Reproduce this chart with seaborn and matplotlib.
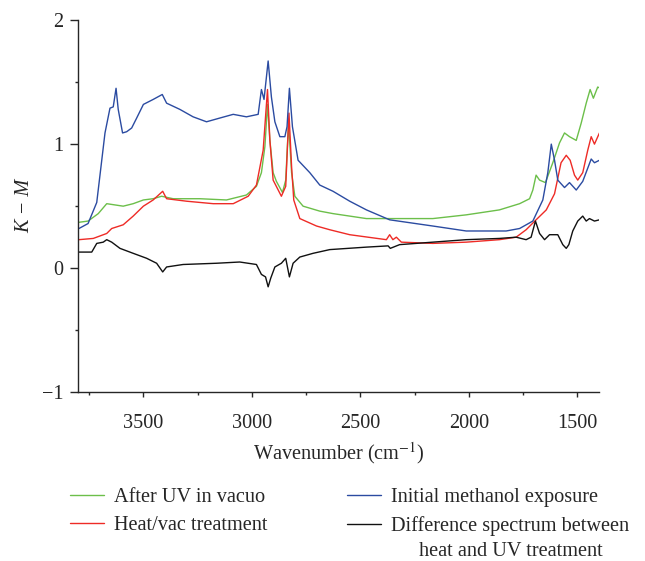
import numpy as np
import pandas as pd
import matplotlib
matplotlib.use("Agg")
import matplotlib.pyplot as plt
import seaborn as sns
from matplotlib.ticker import MultipleLocator

# Spectra (wavenumber in cm-1, K-M value)
wn_initial = [3797, 3755, 3715, 3677, 3654, 3639, 3626, 3616, 3596, 3577, 3554, 3531, 3500,
              3455, 3413, 3393, 3332, 3271, 3209, 3148, 3086, 3025, 2971, 2956, 2944, 2925,
              2910, 2894, 2871, 2848, 2838, 2827, 2813, 2787, 2733, 2687, 2626, 2549, 2472,
              2365, 2166, 2012, 1828, 1766, 1705, 1659, 1636, 1620, 1605, 1590, 1559, 1536,
              1505, 1475, 1436, 1421, 1398]
km_initial = [0.32, 0.36, 0.53, 1.09, 1.29, 1.30, 1.45, 1.28, 1.09, 1.10, 1.13, 1.21, 1.32,
              1.36, 1.40, 1.33, 1.28, 1.22, 1.18, 1.21, 1.24, 1.22, 1.24, 1.44, 1.36, 1.67,
              1.38, 1.18, 1.06, 1.06, 1.14, 1.45, 1.14, 0.87, 0.77, 0.67, 0.62, 0.54, 0.47,
              0.39, 0.34, 0.30, 0.30, 0.32, 0.38, 0.55, 0.77, 1.00, 0.87, 0.71, 0.65, 0.69,
              0.63, 0.70, 0.88, 0.85, 0.87]

wn_uv = [3797, 3755, 3708, 3669, 3631, 3593, 3547, 3500, 3455, 3416, 3363, 3240, 3117,
         3025, 2979, 2956, 2940, 2928, 2917, 2902, 2887, 2859, 2844, 2831, 2817, 2802,
         2764, 2687, 2626, 2472, 2319, 2166, 2012, 1859, 1766, 1720, 1705, 1690, 1674,
         1647, 1613, 1582, 1559, 1536, 1505, 1482, 1459, 1441, 1426, 1406, 1395]
km_uv = [0.37, 0.38, 0.44, 0.52, 0.51, 0.50, 0.52, 0.55, 0.56, 0.58, 0.56, 0.56, 0.55,
         0.59, 0.66, 0.77, 0.98, 1.32, 1.03, 0.77, 0.70, 0.61, 0.71, 1.17, 0.77, 0.58,
         0.50, 0.46, 0.44, 0.40, 0.40, 0.40, 0.43, 0.47, 0.52, 0.56, 0.63, 0.75, 0.71,
         0.69, 0.85, 1.01, 1.09, 1.06, 1.03, 1.17, 1.33, 1.44, 1.37, 1.46, 1.45]

wn_heat = [3797, 3731, 3669, 3646, 3593, 3547, 3500, 3455, 3411, 3393, 3301, 3178, 3086,
           3017, 2979, 2948, 2928, 2917, 2902, 2864, 2844, 2829, 2817, 2807, 2779, 2702,
           2641, 2549, 2380, 2365, 2350, 2334, 2311, 2166, 2012, 1859, 1782, 1736, 1690,
           1643, 1605, 1575, 1551, 1533, 1513, 1498, 1475, 1452, 1436, 1421, 1398]
km_heat = [0.23, 0.24, 0.28, 0.32, 0.35, 0.42, 0.50, 0.55, 0.62, 0.56, 0.54, 0.52, 0.52,
           0.58, 0.67, 0.95, 1.44, 1.03, 0.71, 0.58, 0.66, 1.25, 0.82, 0.55, 0.40, 0.34,
           0.31, 0.27, 0.23, 0.27, 0.23, 0.25, 0.21, 0.20, 0.21, 0.23, 0.25, 0.31, 0.39,
           0.47, 0.60, 0.85, 0.91, 0.87, 0.75, 0.71, 0.77, 0.95, 1.06, 1.00, 1.09]

wn_diff = [3797, 3755, 3738, 3715, 3685, 3669, 3646, 3608, 3547, 3485, 3439, 3411, 3393,
           3317, 3163, 3056, 2979, 2956, 2937, 2925, 2913, 2894, 2864, 2844, 2827, 2810,
           2779, 2718, 2641, 2472, 2372, 2362, 2319, 2166, 2012, 1859, 1782, 1736, 1713,
           1693, 1674, 1651, 1628, 1590, 1567, 1551, 1539, 1521, 1498, 1475, 1459, 1444,
           1421, 1398]
km_diff = [0.13, 0.13, 0.13, 0.20, 0.21, 0.23, 0.21, 0.16, 0.12, 0.08, 0.04, -0.03, 0.01,
           0.03, 0.04, 0.05, 0.03, -0.05, -0.07, -0.15, -0.08, 0.01, 0.04, 0.08, -0.07, 0.04,
           0.09, 0.12, 0.15, 0.17, 0.18, 0.16, 0.19, 0.21, 0.23, 0.24, 0.25, 0.23, 0.25,
           0.38, 0.28, 0.23, 0.27, 0.27, 0.19, 0.16, 0.19, 0.30, 0.38, 0.42, 0.38, 0.40,
           0.38, 0.39]

labels = ["After UV in vacuo", "Heat/vac treatment",
          "Initial methanol exposure", "Difference spectrum between"]
label_cont = "heat and UV treatment"
colors = ["#6cbf4a", "#ee2b26", "#2b4ba1", "#111111"]

series = [(wn_uv, km_uv), (wn_heat, km_heat), (wn_initial, km_initial), (wn_diff, km_diff)]

sns.set_style("ticks")
plt.rcParams["font.family"] = ["Liberation Serif", "DejaVu Serif"]
plt.rcParams["mathtext.fontset"] = "stix"
fs = 14.6

fig = plt.figure(figsize=(6.45, 5.61), dpi=100)
ax = fig.add_axes([0.1214, 0.3007, 0.8073, 0.6636])

handles = []
for (wn, km), lab, col in zip(series, labels, colors):
    df = pd.DataFrame({"wn": wn, "km": km})
    sns.lineplot(data=df, x="wn", y="km", ax=ax, color=col, lw=1.0,
                 estimator=None, sort=False)
    handles.append(ax.get_lines()[-1])

ax.set_xlim(3800, 1400)
ax.set_ylim(-1, 2)
ax.xaxis.set_major_locator(MultipleLocator(500))
ax.xaxis.set_minor_locator(MultipleLocator(250))
ax.yaxis.set_minor_locator(MultipleLocator(0.5))
ax.set_yticks([-1, 0, 1, 2])
ax.set_yticklabels(["\u22121", "0", "1", "2"])
ax.tick_params(axis="x", which="major", length=3.5, width=1, pad=12, labelsize=fs)
ax.tick_params(axis="x", which="minor", length=2.5, width=1)
ax.tick_params(axis="y", which="major", length=6, width=1, pad=5, labelsize=fs)
ax.tick_params(axis="y", which="minor", length=2.5, width=1)
sns.despine(ax=ax)
for s in ["left", "bottom"]:
    ax.spines[s].set_linewidth(1.0)

ax.set_xlabel("Wavenumber (cm$^{-1}$)", fontsize=fs, labelpad=5)
ax.set_ylabel("K \u2212 M", fontsize=fs, style="italic", labelpad=5)

leg = fig.legend(handles, labels, ncol=2, loc="upper left", bbox_to_anchor=(0.108, 0.130),
                 frameon=False, handlelength=1.7, handletextpad=0.5, columnspacing=3.9,
                 labelspacing=0.42, borderpad=0, borderaxespad=0, fontsize=fs)

# second line of the last entry, centred under its first line
fig.canvas.draw()
bb = leg.get_texts()[3].get_window_extent()
fig.text((bb.x0 + bb.x1) / 2 / fig.bbox.width, ((bb.y0 + bb.y1) / 2 - 25.5) / fig.bbox.height,
         label_cont, ha="center", va="center", fontsize=fs)

fig.savefig("out.png", dpi=100)
